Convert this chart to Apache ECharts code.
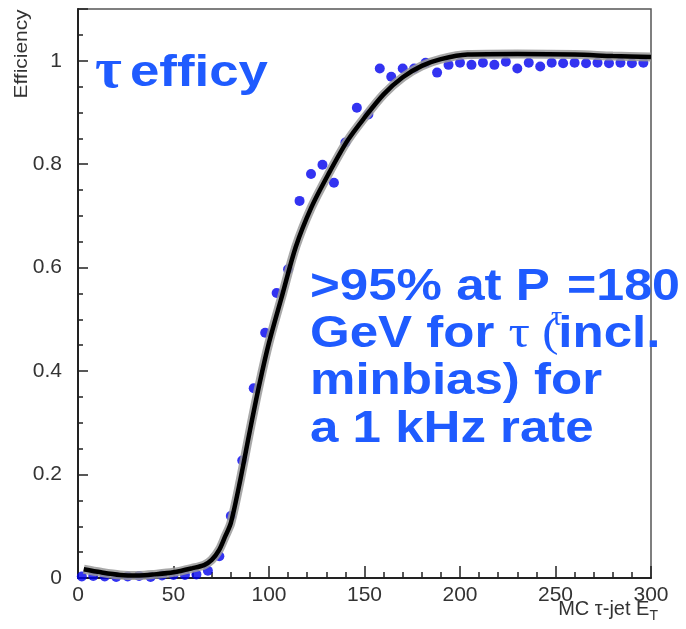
<!DOCTYPE html>
<html><head><meta charset="utf-8">
<script src="https://cdn.jsdelivr.net/npm/echarts@6/dist/echarts.min.js"></script>
<style>html,body{margin:0;padding:0;background:#fff}#c{width:686px;height:629px}</style>
</head><body><div id="c"></div>
<script>
// Measured efficiency points (MC tau-jet E_T, efficiency)
const pointX = [2, 8, 14, 20, 26, 32, 38, 44, 50, 56, 62, 68, 74, 80, 86, 92, 98, 104, 110, 116, 122, 128, 134, 140, 146, 152, 158, 164, 170, 176, 182, 188, 194, 200, 206, 212, 218, 224, 230, 236, 242, 248, 254, 260, 266, 272, 278, 284, 290, 296];
const pointY = [0.003, 0.004, 0.003, 0.002, 0.003, 0.004, 0.002, 0.005, 0.006, 0.006, 0.007, 0.014, 0.042, 0.12, 0.227, 0.367, 0.474, 0.551, 0.597, 0.729, 0.781, 0.799, 0.764, 0.842, 0.909, 0.896, 0.985, 0.969, 0.985, 0.985, 0.996, 0.977, 0.992, 0.996, 0.992, 0.996, 0.992, 0.998, 0.985, 0.996, 0.989, 0.996, 0.995, 0.996, 0.995, 0.996, 0.995, 0.996, 0.995, 0.996];
// Fitted curve
const fitX = [3, 12, 22, 32, 40, 50, 60, 66, 70, 74, 77, 80, 85, 90, 95, 100, 107, 114, 122, 131, 141, 150, 160, 170, 180, 190, 204, 230, 260, 280, 300];
const fitY = [0.017, 0.011, 0.006, 0.005, 0.007, 0.011, 0.019, 0.025, 0.035, 0.055, 0.08, 0.106, 0.19, 0.285, 0.375, 0.455, 0.548, 0.64, 0.715, 0.78, 0.845, 0.89, 0.935, 0.968, 0.99, 1.003, 1.012, 1.013, 1.012, 1.009, 1.007];
const xTitle = 'MC τ-jet E';
const xTitleSub = 'T';
const yTitle = 'Efficiency';

const blue = '#1f5bff';
const chart = echarts.init(document.getElementById('c'), null, {renderer: 'canvas'});
const pts = pointX.map((x, i) => [x, pointY[i]]);
const fit = fitX.map((x, i) => [x, fitY[i]]);
chart.setOption({
  animation: false,
  backgroundColor: '#fff',
  grid: {left: 78, right: 35, top: 9, bottom: 51, show: true, borderColor: '#555', borderWidth: 1.5, backgroundColor: 'transparent'},
  xAxis: {
    type: 'value', min: 0, max: 300, interval: 50,
    axisLine: {lineStyle: {color: '#222', width: 2}},
    axisTick: {inside: true, length: 12, lineStyle: {color: '#222', width: 1.5}},
    minorTick: {show: true, splitNumber: 5, length: 6, lineStyle: {color: '#222', width: 1.5}},
    axisLabel: {color: '#333', fontSize: 21, fontFamily: 'Liberation Sans', margin: 7},
    splitLine: {show: false}
  },
  yAxis: {
    type: 'value', min: 0, max: 1.1, interval: 0.2,
    axisLine: {lineStyle: {color: '#222', width: 2}},
    axisTick: {inside: true, length: 10, lineStyle: {color: '#222', width: 1.5}},
    minorTick: {show: true, splitNumber: 4, length: 5, lineStyle: {color: '#222', width: 1.5}},
    axisLabel: {color: '#333', fontSize: 21, fontFamily: 'Liberation Sans', margin: 16, showMaxLabel: false},
    splitLine: {show: false}
  },
  series: [
    {type: 'scatter', data: pts, symbol: 'circle', symbolSize: 10, itemStyle: {color: '#0000ee'}, z: 2},
    {type: 'line', data: fit, smooth: 0.3, showSymbol: false, lineStyle: {color: '#999', width: 9, opacity: 0.85}, z: 3},
    {type: 'line', data: fit, smooth: 0.3, showSymbol: false, lineStyle: {color: '#000', width: 4.5}, z: 4}
  ],
  graphic: [
    {type: 'text', x: 22, y: 54, rotation: Math.PI / 2, scaleX: 1.1, style: {text: yTitle, font: '19px "Liberation Sans"', fill: '#333', textAlign: 'center', textVerticalAlign: 'middle'}},
    {type: 'text', x: 658, y: 609, style: {text: '{a|' + xTitle + '}{s|' + xTitleSub + '}', textAlign: 'right', textVerticalAlign: 'middle', rich: {a: {font: '20px "Liberation Sans"', fill: '#333'}, s: {font: '14px "Liberation Sans"', fill: '#333', padding: [14, 0, 0, 0]}}}},
    {type: 'text', x: 95, y: 72, style: {text: 'τ', font: 'bold 58px "Liberation Serif"', fill: blue, textVerticalAlign: 'middle'}},
    {type: 'text', x: 130, y: 74, scaleX: 1.2, style: {text: 'efficy', font: 'bold 44px "Liberation Sans"', fill: blue, textVerticalAlign: 'middle'}},
    {type: 'text', x: 310, y: 288, scaleX: 1.16, style: {text: '>95% at P', font: 'bold 44px "Liberation Sans"', fill: blue, textVerticalAlign: 'middle'}},
    {type: 'text', x: 551, y: 318, style: {text: 'τ', font: '28px "Liberation Serif"', fill: blue, textVerticalAlign: 'middle'}},
    {type: 'text', x: 567, y: 288, scaleX: 1.14, style: {text: '=180', font: 'bold 44px "Liberation Sans"', fill: blue, textVerticalAlign: 'middle'}},
    {type: 'text', x: 310, y: 335, scaleX: 1.16, style: {text: '{b|GeV for }{t|τ}{p| (}{b|incl.}', textVerticalAlign: 'middle', rich: {b: {font: 'bold 44px "Liberation Sans"', fill: blue}, t: {font: '46px "Liberation Serif"', fill: blue}, p: {font: '42px "Liberation Serif"', fill: blue}}}},
    {type: 'text', x: 310, y: 382, scaleX: 1.16, style: {text: 'minbias) for', font: 'bold 44px "Liberation Sans"', fill: blue, textVerticalAlign: 'middle'}},
    {type: 'text', x: 310, y: 430, scaleX: 1.16, style: {text: 'a 1 kHz rate', font: 'bold 44px "Liberation Sans"', fill: blue, textVerticalAlign: 'middle'}}
  ]
});
</script></body></html>
